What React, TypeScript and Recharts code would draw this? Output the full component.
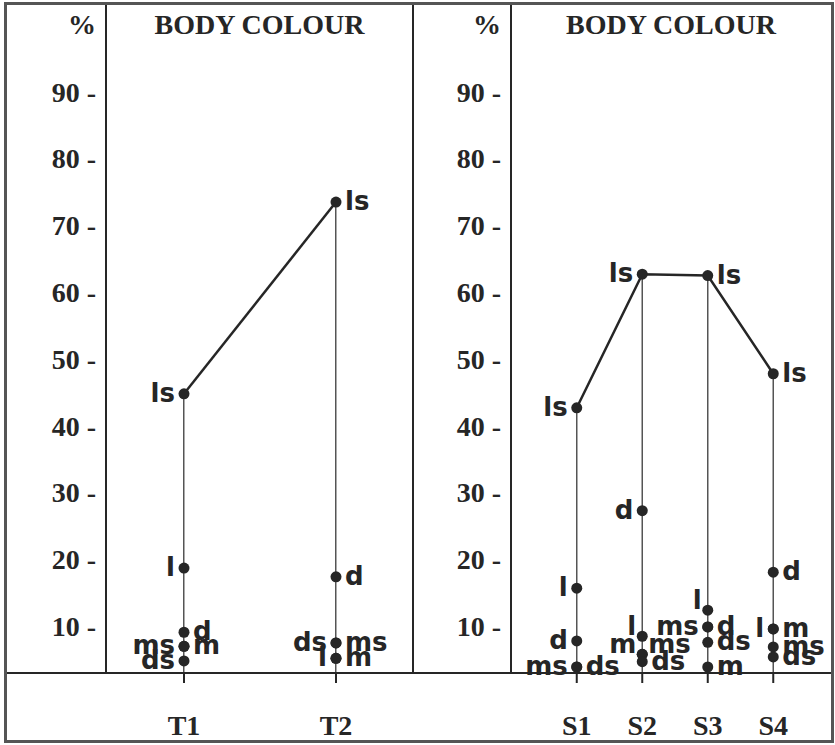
import React from 'react';
import { ComposedChart, Bar, Line, XAxis, YAxis, LabelList } from 'recharts';

// ---- data ----
const leftCategories = ['T1', 'T2'];
const leftLs = [44.8, 73.5];
const leftL = [18.7, 5.2];
const leftD = [9.1, 17.4];
const leftM = [7.0, 5.2];
const leftMs = [7.0, 7.5];
const leftDs = [4.8, 7.5];

const rightCategories = ['S1', 'S2', 'S3', 'S4'];
const rightLs = [42.7, 62.7, 62.5, 47.8];
const rightL = [15.7, 8.5, 12.4, 9.6];
const rightD = [7.8, 27.3, 9.9, 18.1];
const rightM = [null, 5.8, 3.9, 9.6];
const rightMs = [3.9, 5.8, 9.9, 6.9];
const rightDs = [3.9, 4.7, 7.6, 5.4];

const yTicks = [10, 20, 30, 40, 50, 60, 70, 80, 90];
const title = 'BODY COLOUR';
const unitLabel = '%';

// label side of each point (L = left, R = right, UL / UR = raised)
const leftSides: Record<string, string[]> = {
  ls: ['L', 'R'],
  l: ['L', 'L'],
  d: ['R', 'R'],
  m: ['R', 'R'],
  ms: ['L', 'R'],
  ds: ['L', 'L'],
};
const rightSides: Record<string, string[]> = {
  ls: ['L', 'L', 'R', 'R'],
  l: ['L', 'UL', 'UL', 'L'],
  d: ['L', 'L', 'R', 'R'],
  m: ['L', 'UL', 'R', 'R'],
  ms: ['L', 'UR', 'L', 'R'],
  ds: ['R', 'R', 'R', 'R'],
};

const seriesNames = ['l', 'd', 'm', 'ms', 'ds'];

const leftData = leftCategories.map((c, i) => ({
  cat: c, ls: leftLs[i], l: leftL[i], d: leftD[i], m: leftM[i], ms: leftMs[i], ds: leftDs[i],
}));
const rightData = rightCategories.map((c, i) => ({
  cat: c, ls: rightLs[i], l: rightL[i], d: rightD[i], m: rightM[i], ms: rightMs[i], ds: rightDs[i],
}));

const INK = '#262626';
const SERIF = '"Liberation Serif", "Times New Roman", serif';
const SANS = '"DejaVu Sans", sans-serif';

const makeLabel = (name: string, sides: string[]) => (props: any) => {
  const { x, y, value, index } = props;
  if (value == null || x == null || y == null) return null;
  const side = sides[index] || 'R';
  const left = side.indexOf('L') >= 0;
  const up = side.indexOf('U') === 0;
  const tx = left ? x - (up ? 6 : 9) : x + (up ? 6 : 9);
  const ty = up ? y - 1 : y + 8;
  return (
    <text
      x={tx}
      y={ty}
      textAnchor={left ? 'end' : 'start'}
      fontFamily={SANS}
      fontWeight="bold"
      fontSize={26}
      fill={INK}
    >
      {name}
    </text>
  );
};

const YTick = (props: any) => {
  const { x, y, payload } = props;
  return (
    <text x={x - 10} y={y} dy="0.35em" textAnchor="end" fontFamily={SERIF} fontWeight="bold" fontSize={28} fill={INK}>
      {`${payload.value} -`}
    </text>
  );
};

const XTick = (props: any) => {
  const { x, y, payload } = props;
  return (
    <text x={x} y={y + 50} textAnchor="middle" fontFamily={SERIF} fontWeight="bold" fontSize={28} fill={INK}>
      {payload.value}
    </text>
  );
};

const dotStyle = { r: 5.5, fill: INK, stroke: 'none' };

function Panel({ data, sides, width, yWidth, padding }: any) {
  return (
    <ComposedChart
      width={width}
      height={737}
      data={data}
      margin={{ top: 0, right: 0, bottom: 0, left: 0 }}
    >
      <XAxis
        dataKey="cat"
        height={69}
        padding={padding}
        tick={<XTick />}
        tickSize={10}
        tickLine={{ stroke: INK, strokeWidth: 2 }}
        axisLine={{ stroke: INK, strokeWidth: 1.5 }}
        interval={0}
      />
      <YAxis
        type="number"
        domain={[3, 103]}
        allowDataOverflow
        ticks={yTicks}
        width={yWidth}
        tick={<YTick />}
        tickLine={false}
        tickSize={0}
        tickMargin={0}
        axisLine={{ stroke: INK, strokeWidth: 2 }}
      />
      <Bar dataKey="ls" barSize={1.5} fill="#555" isAnimationActive={false} />
      <Line
        dataKey="ls"
        stroke={INK}
        strokeWidth={2.5}
        dot={dotStyle}
        activeDot={false}
        isAnimationActive={false}
      >
        <LabelList dataKey="ls" content={makeLabel('ls', sides.ls)} />
      </Line>
      {seriesNames.map((s) => (
        <Line
          key={s}
          dataKey={s}
          stroke="none"
          dot={dotStyle}
          activeDot={false}
          isAnimationActive={false}
        >
          <LabelList dataKey={s} content={makeLabel(s, sides[s])} />
        </Line>
      ))}
    </ComposedChart>
  );
}

const headStyle: React.CSSProperties = {
  position: 'absolute',
  fontFamily: SERIF,
  fontWeight: 'bold',
  fontSize: 28,
  color: INK,
  lineHeight: '30px',
  whiteSpace: 'nowrap',
};

export default function App() {
  return (
    <div style={{ position: 'absolute', left: 0, top: 0, width: 835, height: 745, background: '#fff', overflow: 'hidden' }}>
      <div style={{ position: 'absolute', left: 4, top: 2, width: 830, height: 741, border: '3px solid #555', boxSizing: 'border-box' }} />
      <div style={{ position: 'absolute', left: 7, top: 5 }}>
        <Panel data={leftData} sides={leftSides} width={406} yWidth={99} padding={{ left: 2, right: 1 }} />
      </div>
      <div style={{ position: 'absolute', left: 413, top: 5 }}>
        <Panel data={rightData} sides={rightSides} width={418} yWidth={98} padding={{ left: 33, right: 25 }} />
      </div>
      <div style={{ position: 'absolute', left: 7, top: 672, width: 824, height: 1.5, background: INK }} />
      <div style={{ position: 'absolute', left: 412, top: 5, width: 2, height: 668, background: INK }} />
      <div style={{ ...headStyle, left: 0, width: 96, top: 10, textAlign: 'right' }}>{unitLabel}</div>
      <div style={{ ...headStyle, left: 106, width: 307, top: 10, textAlign: 'center' }}>{title}</div>
      <div style={{ ...headStyle, left: 413, width: 88, top: 10, textAlign: 'right' }}>{unitLabel}</div>
      <div style={{ ...headStyle, left: 511, width: 320, top: 10, textAlign: 'center' }}>{title}</div>
    </div>
  );
}
